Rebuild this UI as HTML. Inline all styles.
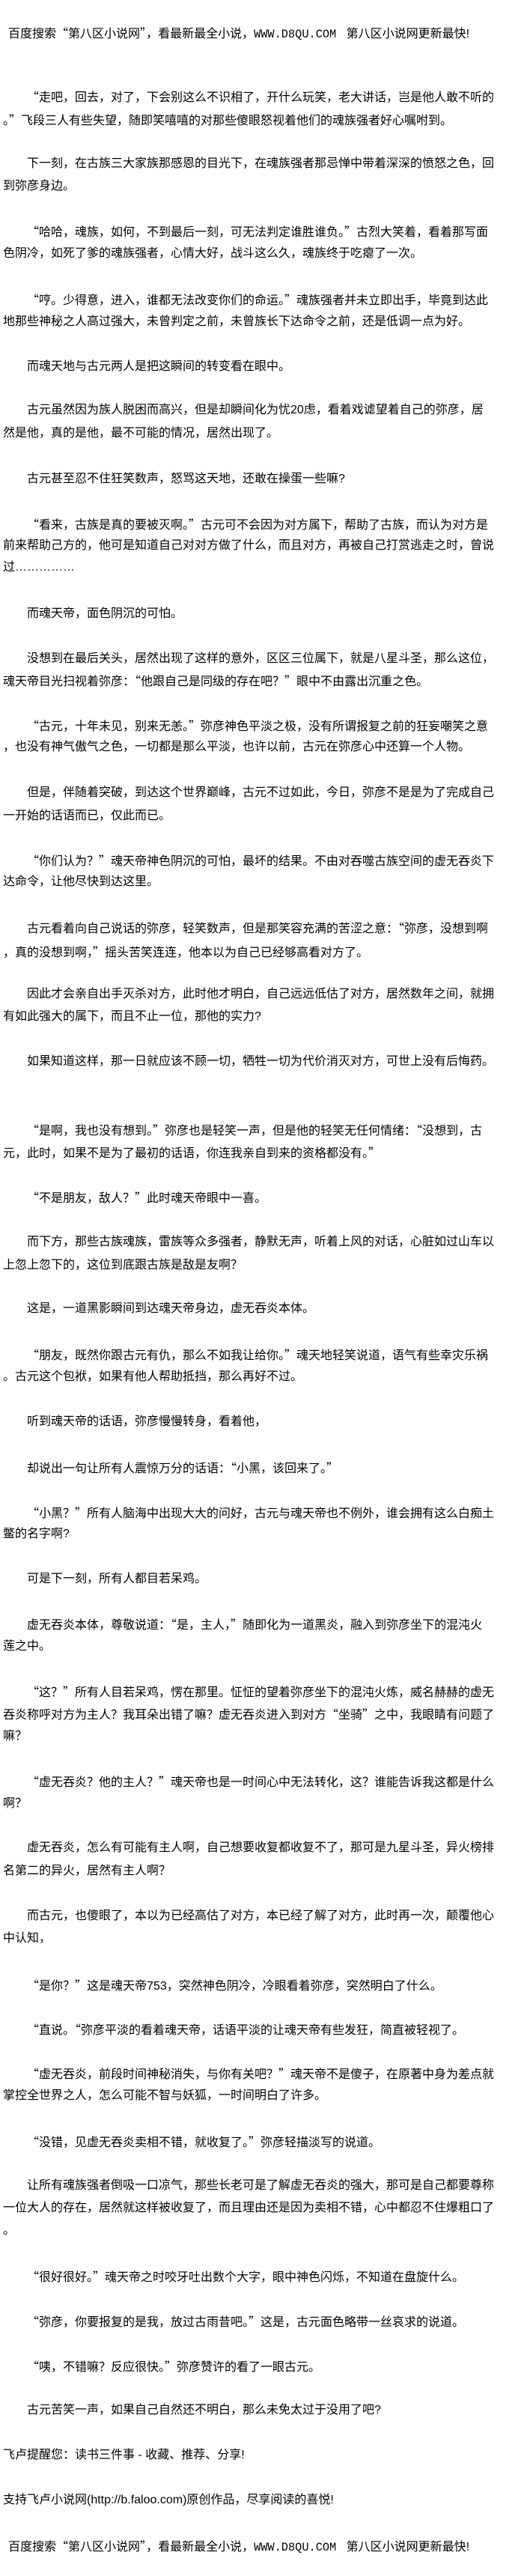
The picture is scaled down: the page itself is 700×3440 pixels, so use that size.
<!DOCTYPE html>
<html><head><meta charset="utf-8">
<style>
html,body{margin:0;padding:0;background:#fff;}
body{width:700px;height:3440px;position:relative;overflow:hidden;color:#000;
font-family:"Liberation Sans","Noto Sans CJK SC",sans-serif;font-size:16px;}
.l{position:absolute;left:4px;height:30px;line-height:30px;white-space:pre;}
.i{left:36px;}
.q{font-family:"Noto Sans CJK SC",sans-serif;}
.m{font-family:"Liberation Mono",monospace;font-size:15.3px;}
</style></head><body>
<div class="l" style="left:11px;top:28px">百度搜索<span class="q">“</span>第八区小说网<span class="q">”</span>，看最新最全小说，<span class="m">WWW.D8QU.COM</span>   第八区小说网更新最快!</div>
<div class="l i" style="top:113px"><span class="q">“</span>走吧，回去，对了，下会别这么不识相了，开什么玩笑，老大讲话，岂是他人敢不听的</div>
<div class="l" style="top:144px">。<span class="q">”</span>飞段三人有些失望，随即笑嘻嘻的对那些傻眼怒视着他们的魂族强者好心嘱咐到。</div>
<div class="l i" style="top:204px">下一刻，在古族三大家族那感恩的目光下，在魂族强者那忌惮中带着深深的愤怒之色，回</div>
<div class="l" style="top:234px">到弥彦身边。</div>
<div class="l i" style="top:293px"><span class="q">“</span>哈哈，魂族，如何，不到最后一刻，可无法判定谁胜谁负。<span class="q">”</span>古烈大笑着，看着那写面</div>
<div class="l" style="top:324px">色阴冷，如死了爹的魂族强者，心情大好，战斗这么久，魂族终于吃瘪了一次。</div>
<div class="l i" style="top:384px"><span class="q">“</span>哼。少得意，进入，谁都无法改变你们的命运。<span class="q">”</span>魂族强者并未立即出手，毕竟到达此</div>
<div class="l" style="top:415px">地那些神秘之人高过强大，未曾判定之前，未曾族长下达命令之前，还是低调一点为好。</div>
<div class="l i" style="top:475px">而魂天地与古元两人是把这瞬间的转变看在眼中。</div>
<div class="l i" style="top:533px">古元虽然因为族人脱困而高兴，但是却瞬间化为忧20虑，看着戏谑望着自己的弥彦，居</div>
<div class="l" style="top:564px">然是他，真的是他，最不可能的情况，居然出现了。</div>
<div class="l i" style="top:625px">古元甚至忍不住狂笑数声，怒骂这天地，还敢在操蛋一些嘛?</div>
<div class="l i" style="top:684px"><span class="q">“</span>看来，古族是真的要被灭啊。<span class="q">”</span>古元可不会因为对方属下，帮助了古族，而认为对方是</div>
<div class="l" style="top:714px">前来帮助己方的，他可是知道自己对对方做了什么，而且对方，再被自己打赏逃走之时，曾说</div>
<div class="l" style="top:743px">过……………</div>
<div class="l i" style="top:805px">而魂天帝，面色阴沉的可怕。</div>
<div class="l i" style="top:865px">没想到在最后关头，居然出现了这样的意外，区区三位属下，就是八星斗圣，那么这位，</div>
<div class="l" style="top:893px">魂天帝目光扫视着弥彦：<span class="q">“</span>他跟自己是同级的存在吧？<span class="q">”</span>眼中不由露出沉重之色。</div>
<div class="l i" style="top:953px"><span class="q">“</span>古元，十年未见，别来无恙。<span class="q">”</span>弥彦神色平淡之极，没有所谓报复之前的狂妄嘲笑之意</div>
<div class="l" style="top:983px">，也没有神气傲气之色，一切都是那么平淡，也许以前，古元在弥彦心中还算一个人物。</div>
<div class="l i" style="top:1044px">但是，伴随着突破，到达这个世界巅峰，古元不过如此，今日，弥彦不是是为了完成自己</div>
<div class="l" style="top:1075px">一开始的话语而已，仅此而已。</div>
<div class="l i" style="top:1133px"><span class="q">“</span>你们认为？<span class="q">”</span>魂天帝神色阴沉的可怕，最坏的结果。不由对吞噬古族空间的虚无吞炎下</div>
<div class="l" style="top:1163px">达命令，让他尽快到达这里。</div>
<div class="l i" style="top:1223px">古元看着向自己说话的弥彦，轻笑数声，但是那笑容充满的苦涩之意：<span class="q">“</span>弥彦，没想到啊</div>
<div class="l" style="top:1255px">，真的没想到啊，<span class="q">”</span>摇头苦笑连连，他本以为自己已经够高看对方了。</div>
<div class="l i" style="top:1313px">因此才会亲自出手灭杀对方，此时他才明白，自己远远低估了对方，居然数年之间，就拥</div>
<div class="l" style="top:1343px">有如此强大的属下，而且不止一位，那他的实力?</div>
<div class="l i" style="top:1403px">如果知道这样，那一日就应该不顾一切，牺牲一切为代价消灭对方，可世上没有后悔药。</div>
<div class="l i" style="top:1493px"><span class="q">“</span>是啊，我也没有想到。<span class="q">”</span>弥彦也是轻笑一声，但是他的轻笑无任何情绪：<span class="q">“</span>没想到，古</div>
<div class="l" style="top:1523px">元，此时，如果不是为了最初的话语，你连我亲自到来的资格都没有。<span class="q">”</span></div>
<div class="l i" style="top:1583px"><span class="q">“</span>不是朋友，敌人？<span class="q">”</span>此时魂天帝眼中一喜。</div>
<div class="l i" style="top:1644px">而下方，那些古族魂族，雷族等众多强者，静默无声，听着上风的对话，心脏如过山车以</div>
<div class="l" style="top:1675px">上忽上忽下的，这位到底跟古族是敌是友啊？</div>
<div class="l i" style="top:1733px">这是，一道黑影瞬间到达魂天帝身边，虚无吞炎本体。</div>
<div class="l i" style="top:1793px"><span class="q">“</span>朋友，既然你跟古元有仇，那么不如我让给你。<span class="q">”</span>魂天地轻笑说道，语气有些幸灾乐祸</div>
<div class="l" style="top:1824px">。古元这个包袱，如果有他人帮助抵挡，那么再好不过。</div>
<div class="l i" style="top:1884px">听到魂天帝的话语，弥彦慢慢转身，看着他，</div>
<div class="l i" style="top:1944px">却说出一句让所有人震惊万分的话语：<span class="q">“</span>小黑，该回来了。<span class="q">”</span></div>
<div class="l i" style="top:2004px"><span class="q">“</span>小黑？<span class="q">”</span>所有人脑海中出现大大的问好，古元与魂天帝也不例外，谁会拥有这么白痴土</div>
<div class="l" style="top:2034px">鳖的名字啊?</div>
<div class="l i" style="top:2094px">可是下一刻，所有人都目若呆鸡。</div>
<div class="l i" style="top:2153px">虚无吞炎本体，尊敬说道：<span class="q">“</span>是，主人，<span class="q">”</span>随即化为一道黑炎，融入到弥彦坐下的混沌火</div>
<div class="l" style="top:2184px">莲之中。</div>
<div class="l i" style="top:2243px"><span class="q">“</span>这？<span class="q">”</span>所有人目若呆鸡，愣在那里。怔怔的望着弥彦坐下的混沌火炼，威名赫赫的虚无</div>
<div class="l" style="top:2273px">吞炎称呼对方为主人？我耳朵出错了嘛？虚无吞炎进入到对方<span class="q">“</span>坐骑<span class="q">”</span>之中，我眼睛有问题了</div>
<div class="l" style="top:2304px">嘛？</div>
<div class="l i" style="top:2363px"><span class="q">“</span>虚无吞炎？他的主人？<span class="q">”</span>魂天帝也是一时间心中无法转化，这？谁能告诉我这都是什么</div>
<div class="l" style="top:2394px">啊？</div>
<div class="l i" style="top:2453px">虚无吞炎，怎么有可能有主人啊，自己想要收复都收复不了，那可是九星斗圣，异火榜排</div>
<div class="l" style="top:2484px">名第二的异火，居然有主人啊？</div>
<div class="l i" style="top:2544px">而古元，也傻眼了，本以为已经高估了对方，本已经了解了对方，此时再一次，颠覆他心</div>
<div class="l" style="top:2574px">中认知，</div>
<div class="l i" style="top:2635px"><span class="q">“</span>是你？<span class="q">”</span>这是魂天帝753，突然神色阴冷，冷眼看着弥彦，突然明白了什么。</div>
<div class="l i" style="top:2694px"><span class="q">“</span>直说。<span class="q">“</span>弥彦平淡的看着魂天帝，话语平淡的让魂天帝有些发狂，简直被轻视了。</div>
<div class="l i" style="top:2753px"><span class="q">“</span>虚无吞炎，前段时间神秘消失，与你有关吧？<span class="q">”</span>魂天帝不是傻子，在原著中身为差点就</div>
<div class="l" style="top:2784px">掌控全世界之人，怎么可能不智与妖狐，一时间明白了许多。</div>
<div class="l i" style="top:2844px"><span class="q">“</span>没错，见虚无吞炎卖相不错，就收复了。<span class="q">”</span>弥彦轻描淡写的说道。</div>
<div class="l i" style="top:2904px">让所有魂族强者倒吸一口凉气，那些长老可是了解虚无吞炎的强大，那可是自己都要尊称</div>
<div class="l" style="top:2934px">一位大人的存在，居然就这样被收复了，而且理由还是因为卖相不错，心中都忍不住爆粗口了</div>
<div class="l" style="top:2964px">。</div>
<div class="l i" style="top:3024px"><span class="q">“</span>很好很好。<span class="q">”</span>魂天帝之时咬牙吐出数个大字，眼中神色闪烁，不知道在盘旋什么。</div>
<div class="l i" style="top:3084px"><span class="q">“</span>弥彦，你要报复的是我，放过古雨昔吧。<span class="q">”</span>这是，古元面色略带一丝哀求的说道。</div>
<div class="l i" style="top:3144px"><span class="q">“</span>咦，不错嘛？反应很快。<span class="q">”</span>弥彦赞许的看了一眼古元。</div>
<div class="l i" style="top:3204px">古元苦笑一声，如果自己自然还不明白，那么未免太过于没用了吧?</div>
<div class="l" style="top:3264px">飞卢提醒您：读书三件事 - 收藏、推荐、分享!</div>
<div class="l" style="top:3324px">支持飞卢小说网(http://b.faloo.com)原创作品，尽享阅读的喜悦!</div>
<div class="l" style="left:11px;top:3384px">百度搜索<span class="q">“</span>第八区小说网<span class="q">”</span>，看最新最全小说，<span class="m">WWW.D8QU.COM</span>   第八区小说网更新最快!</div>
</body></html>
